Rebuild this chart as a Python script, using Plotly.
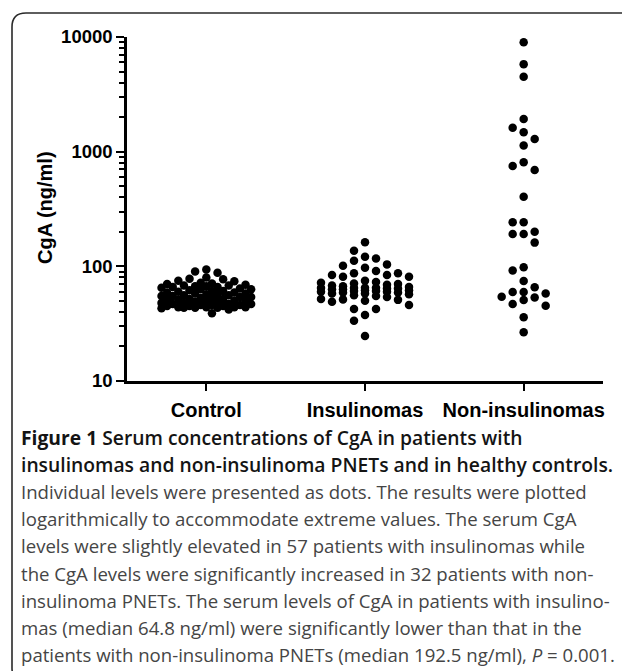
import numpy as np
import plotly.graph_objects as go

# ---------------- data ----------------
categories = ["Control", "Insulinomas", "Non-insulinomas"]

control = [94, 90, 88, 80, 78, 77, 75, 74, 72, 71, 70, 69, 68, 68, 67, 67, 66, 66,
           65, 64, 63, 63, 62, 61, 61, 60, 59, 59, 58, 58, 57, 57, 56, 56, 55, 55,
           54, 54, 53, 53, 52, 52, 51, 51, 50, 50, 50, 49, 49, 48, 48, 47, 47, 47,
           46, 46, 46, 45, 45, 45, 44, 44, 44, 44, 43.5, 43.5, 43.5, 43, 42, 39]

insulinomas = [162, 137, 121, 117, 112, 104, 101, 97, 91, 87, 87, 84, 84, 81, 81,
               75, 73, 72, 71, 70, 69, 68, 67, 66, 65, 65, 64.8, 64.8, 64, 64, 63, 63,
               62, 62, 61, 61, 60, 60, 59, 59, 58, 58, 57, 56, 55, 54,
               52, 51.5, 51, 50, 49, 46, 42.5, 42.5, 37.7, 33.6, 24.7]

non_insulinomas = [9000, 5800, 4500, 1930, 1620, 1480, 1290, 1130, 807, 750, 692, 404,
                   242, 242, 200, 191, 191, 161,
                   98, 92, 74.5, 65.6, 59.7, 59.7, 58, 54.4, 53.6, 50.8, 46.9, 45.4,
                   35.9, 26.6]

y_tickvals = [10, 100, 1000, 10000]
y_ticktext = ["10", "100", "1000", "10000"]
y_title = "CgA (ng/ml)"

caption_lines = [
    "<b>Figure 1</b> Serum concentrations of CgA in patients with",
    "insulinomas and non-insulinoma PNETs and in healthy controls.",
    "Individual levels were presented as dots. The results were plotted",
    "logarithmically to accommodate extreme values. The serum CgA",
    "levels were slightly elevated in 57 patients with insulinomas while",
    "the CgA levels were significantly increased in 32 patients with non-",
    "insulinoma PNETs. The serum levels of CgA in patients with insulino-",
    "mas (median 64.8 ng/ml) were significantly lower than that in the",
    "patients with non-insulinoma PNETs (median 192.5 ng/ml), <i>P</i> = 0.001.",
]

# ---------------- layout geometry (pixels) ----------------
W, H = 622, 671
PL, PR, PT, PB = 127, 603, 37, 381
YLOG_MIN, YLOG_MAX = 1, 4


def paper_x(px):
    return (px - PL) / (PR - PL)


def paper_y(py):
    return (PB - py) / (PB - PT)


def ypix(vals):
    return PB - (np.log10(np.asarray(vals, float)) - YLOG_MIN) / (YLOG_MAX - YLOG_MIN) * (PB - PT)


CAT_W = (PR - PL) / len(categories)


def swarm(values, step, dist, kmax):
    """greedy beeswarm: returns horizontal offsets in pixels"""
    ys = ypix(values)
    order = np.argsort(ys)
    placed = []
    offs = np.zeros(len(ys))
    for i in order:
        y = ys[i]
        bal = sum(o for o, _ in placed)
        cands = [0.0]
        for k in range(1, kmax + 1):
            if bal < 0:
                cands += [k * step, -k * step]
            else:
                cands += [-k * step, k * step]
        best, best_d, best_c = None, -1, 0.0
        for c in cands:
            md = min([np.hypot(c - o, y - py) for o, py in placed] or [1e9])
            if md >= dist:
                best = c
                break
            if md > best_d:
                best_d, best_c = md, c
        if best is None:
            best = best_c
        offs[i] = best
        placed.append((best, y))
    return offs


groups = [control, insulinomas, non_insulinomas]
params = [(5.6, 7.2, 8), (11, 10, 4), (11, 10, 2)]

fig = go.Figure()
for gi, (vals, (st, dd, km)) in enumerate(zip(groups, params)):
    offs = swarm(vals, st, dd, km)
    fig.add_trace(go.Scatter(
        x=gi + offs / CAT_W, y=vals, mode="markers",
        marker=dict(color="black", size=8.5, line=dict(width=0)),
        showlegend=False, hoverinfo="y", cliponaxis=False))

axis_font = dict(family="Liberation Sans, Arial", color="black")
minor_vals = [m * 10 ** e for e in (1, 2, 3) for m in range(2, 10)]

fig.update_layout(
    width=W, height=H,
    margin=dict(l=PL, r=W - PR, t=PT, b=H - PB, pad=0),
    paper_bgcolor="white", plot_bgcolor="white",
    xaxis=dict(range=[-0.5, 2.5], tickvals=[0, 1, 2], ticktext=categories,
               ticks="outside", ticklen=7, tickwidth=2, tickcolor="black",
               showline=True, linewidth=2.5, linecolor="black",
               showgrid=False, zeroline=False, ticklabelstandoff=2,
               tickfont=dict(size=20, weight="bold", **axis_font)),
    yaxis=dict(type="log", range=[YLOG_MIN, YLOG_MAX], tickvals=y_tickvals,
               ticktext=y_ticktext, ticks="outside", ticklen=8, tickwidth=2,
               tickcolor="black", showline=True, linewidth=2.5, linecolor="black",
               showgrid=False, zeroline=False,
               tickfont=dict(size=18.5, weight="bold", **axis_font),
               minor=dict(tickvals=minor_vals, ticks="outside", ticklen=5,
                          tickwidth=2, tickcolor="black", showgrid=False)),
)

# y-axis title
fig.add_annotation(x=paper_x(45), y=paper_y(208), xref="paper", yref="paper",
                   text=y_title, textangle=-90, showarrow=False,
                   font=dict(size=20, weight="bold", **axis_font),
                   xanchor="center", yanchor="middle")

# caption
LINE0, LSTEP = 437, 27.2
for i, line in enumerate(caption_lines):
    is_title = i < 2
    fig.add_annotation(
        x=paper_x(19), y=paper_y(LINE0 + i * LSTEP), xref="paper", yref="paper",
        text=line, showarrow=False, xanchor="left", yanchor="middle", align="left",
        font=dict(family="Open Sans", size=19.3 if is_title else 18.6,
                  color="#141414" if is_title else "#454545",
                  weight=600 if is_title else 400))

# rounded frame
x0, xr, yt, yb, r = 12, 640, 13, 682, 14
path = (f"M {paper_x(xr)},{paper_y(yb)} L {paper_x(x0 + r)},{paper_y(yb)} "
        f"Q {paper_x(x0)},{paper_y(yb)} {paper_x(x0)},{paper_y(yb - r)} "
        f"L {paper_x(x0)},{paper_y(yt + r)} "
        f"Q {paper_x(x0)},{paper_y(yt)} {paper_x(x0 + r)},{paper_y(yt)} "
        f"L {paper_x(xr)},{paper_y(yt)}")
fig.add_shape(type="path", path=path, xref="paper", yref="paper",
              line=dict(color="#2a2a2a", width=1.6), layer="below")

fig.write_html("out.html")
